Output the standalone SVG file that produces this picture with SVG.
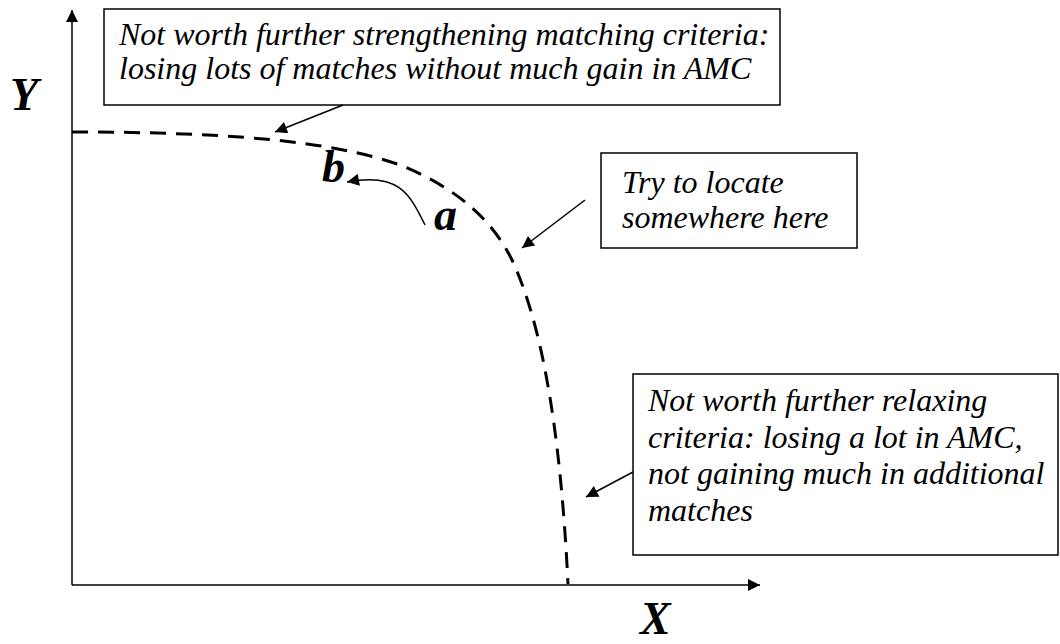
<svg xmlns="http://www.w3.org/2000/svg" width="1060" height="644" viewBox="0 0 1060 644">
<style>
.box{fill:#fff;stroke:#000;stroke-width:1.5}
.t{font-family:"Liberation Serif",serif;font-style:italic;font-size:32px;fill:#000}
.big{font-family:"Liberation Serif",serif;font-style:italic;font-weight:bold;font-size:46px;fill:#000}
.ln{fill:none;stroke:#000;stroke-width:1.5}
</style>
<defs>
<marker id="ah" viewBox="0 0 10 10" refX="10" refY="5" markerWidth="16" markerHeight="12" markerUnits="userSpaceOnUse" orient="auto"><path d="M0,0 L10,5 L0,10 z" fill="#000"/></marker>
</defs>
<g id="axes">
<line class="ln" x1="72" y1="585" x2="72" y2="10" marker-end="url(#ah)"/>
<line class="ln" x1="72" y1="585" x2="760" y2="585" marker-end="url(#ah)"/>
<text class="big" x="10" y="110">Y</text>
<text class="big" x="640" y="634">X</text>
</g>
<g id="curve">
<path d="M72,132 C220,132 330,140 400,165 C450,185 490,215 512,260 C540,320 560,420 568,584" fill="none" stroke="#000" stroke-width="3" stroke-dasharray="16,10"/>
<text class="big" x="322" y="182">b</text>
<text class="big" x="434" y="230">a</text>
</g>
<g id="box1">
<rect class="box" x="104" y="9" width="676" height="96"/>
<text class="t" x="119" y="45">Not worth further strengthening matching criteria:</text>
<text class="t" x="119" y="79">losing lots of matches without much gain in AMC</text>
</g>
<g id="box2">
<rect class="box" x="601" y="153" width="256" height="95"/>
<text class="t" x="622" y="193">Try to locate</text>
<text class="t" x="622" y="228">somewhere here</text>
</g>
<g id="box3">
<rect class="box" x="633" y="374" width="425" height="181"/>
<text class="t" x="648" y="411">Not worth further relaxing</text>
<text class="t" x="648" y="448">criteria: losing a lot in AMC,</text>
<text class="t" x="648" y="484">not gaining much in additional</text>
<text class="t" x="648" y="521">matches</text>
</g>
<g id="connectors">
<line class="ln" x1="343" y1="105" x2="275" y2="132" marker-end="url(#ah)"/>
<path class="ln" d="M425,225 C410,195 400,172 347,182" marker-end="url(#ah)"/>
<line class="ln" x1="585" y1="200" x2="522" y2="248" marker-end="url(#ah)"/>
<line class="ln" x1="633" y1="472" x2="586" y2="497" marker-end="url(#ah)"/>
</g>
</svg>
